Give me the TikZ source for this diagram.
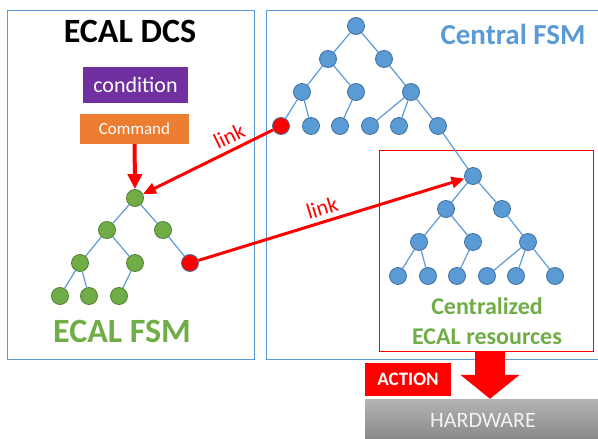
\documentclass[tikz,border=0pt]{standalone}
\usepackage{fontspec}
\setmainfont{Carlito}
\usetikzlibrary{arrows.meta}
\definecolor{fsmblue}{HTML}{5B9BD5}
\definecolor{fsmblueline}{HTML}{41719C}
\definecolor{fsmgreen}{HTML}{70AD47}
\definecolor{fsmgreenline}{HTML}{507E32}
\definecolor{condpurple}{HTML}{7030A0}
\definecolor{cmdorange}{HTML}{ED7D31}
\definecolor{hwtop}{HTML}{B4B4B4}
\definecolor{hwbottom}{HTML}{878787}
\definecolor{hwtext}{HTML}{F2F2F2}

\begin{document}
\begin{tikzpicture}[x=1pt, y=-1pt,
  bnode/.style={circle, draw=fsmblueline, fill=fsmblue, line width=0.8pt, minimum size=17pt, inner sep=0pt},
  gnode/.style={bnode, draw=fsmgreenline, fill=fsmgreen},
  rnode/.style={bnode, fill=red},
  tedge/.style={draw=fsmblue, line width=1.2pt},
  panel/.style={draw=fsmblue, line width=1pt},
  linkarrow/.style={draw=red, line width=3pt, -{Triangle[length=13pt,width=11pt]}},
  linklabel/.style={text=red, font=\fontsize{22}{26}\selectfont}]
%
% ECAL DCS and central FSM, linked trees
\clip (0,0) rectangle (598,439);

%% panels
\draw[panel] (7,10) rectangle (254,359);
\draw[panel] (266,10) rectangle (606,359);
\node[draw=red, line width=0.8pt, minimum width=214pt, minimum height=201pt] (res) at (486,250.5) {};

%% titles
\node (dcs) at (130,31) {\fontsize{34}{40}\selectfont\bfseries ECAL DCS};
\node[text=fsmgreen] (efsm) at (122,331) {\fontsize{34}{40}\selectfont\bfseries ECAL FSM};
\node[text=fsmblue] (cfsm) at (513,34) {\fontsize{29}{34}\selectfont\bfseries Central FSM};
\node[text=fsmgreen, align=center, font=\fontsize{24}{30}\selectfont\bfseries] (reslabel) at (487,321) {Centralized\\ECAL resources};

%% condition and command
\node[fill=condpurple, text=white, minimum width=105pt, minimum height=36pt, font=\fontsize{22}{26}\selectfont] (cond) at (135.5,85) {condition};
\node[fill=cmdorange, text=white, minimum width=109pt, minimum height=30pt, font=\fontsize{17}{20}\selectfont] (cmd) at (134.5,129) {Command};

%% ECAL FSM tree
\node[gnode] (g0) at (135,198) {};
\node[gnode] (g1) at (107,230) {};
\node[gnode] (g2) at (163,230) {};
\node[gnode] (g3) at (80,263) {};
\node[gnode] (g4) at (135,263) {};
\node[rnode] (gr) at (190,263) {};
\node[gnode] (g5) at (60,296) {};
\node[gnode] (g6) at (89,296) {};
\node[gnode] (g7) at (119,296) {};
\draw[tedge] (g0) -- (g1);
\draw[tedge] (g0) -- (g2);
\draw[tedge] (g1) -- (g3);
\draw[tedge] (g1) -- (g4);
\draw[tedge] (g2) -- (gr);
\draw[tedge] (g3) -- (g5);
\draw[tedge] (g3) -- (g6);
\draw[tedge] (g4) -- (g7);

%% central FSM tree
\node[bnode] (c0) at (356,26) {};
\node[bnode] (c1) at (328,59) {};
\node[bnode] (c2) at (384,59) {};
\node[bnode] (c3) at (302,92) {};
\node[bnode] (c4) at (356,92) {};
\node[bnode] (c5) at (411,92) {};
\node[rnode] (cr) at (281,126) {};
\node[bnode] (c6) at (311,126) {};
\node[bnode] (c7) at (340,126) {};
\node[bnode] (c8) at (370,126) {};
\node[bnode] (c9) at (399,126) {};
\node[bnode] (c10) at (438,126) {};
\draw[tedge] (c0) -- (c1);
\draw[tedge] (c0) -- (c2);
\draw[tedge] (c1) -- (c3);
\draw[tedge] (c1) -- (c4);
\draw[tedge] (c2) -- (c5);
\draw[tedge] (c3) -- (cr);
\draw[tedge] (c3) -- (c6);
\draw[tedge] (c4) -- (c7);
\draw[tedge] (c5) -- (c8);
\draw[tedge] (c5) -- (c9);
\draw[tedge] (c5) -- (c10);

%% ECAL resources subtree
\node[bnode] (s0) at (473,176) {};
\node[bnode] (s1) at (446,209) {};
\node[bnode] (s2) at (502,209) {};
\node[bnode] (s3) at (419,242) {};
\node[bnode] (s4) at (473,242) {};
\node[bnode] (s5) at (528,242) {};
\node[bnode] (s6) at (398,276) {};
\node[bnode] (s7) at (428,276) {};
\node[bnode] (s8) at (457,276) {};
\node[bnode] (s9) at (487,276) {};
\node[bnode] (s10) at (516,276) {};
\node[bnode] (s11) at (555,276) {};
\draw[tedge] (c10) -- (s0);
\draw[tedge] (s0) -- (s1);
\draw[tedge] (s0) -- (s2);
\draw[tedge] (s1) -- (s3);
\draw[tedge] (s1) -- (s4);
\draw[tedge] (s2) -- (s5);
\draw[tedge] (s3) -- (s6);
\draw[tedge] (s3) -- (s7);
\draw[tedge] (s4) -- (s8);
\draw[tedge] (s5) -- (s9);
\draw[tedge] (s5) -- (s10);
\draw[tedge] (s5) -- (s11);

%% links
\draw[draw=red, line width=4pt, -{Triangle[length=15pt,width=14pt]}] (cmd) -- (g0);
\draw[linkarrow] (cr) -- (g0);
\node[linklabel, rotate=26] (link1) at (229,136) {link};
\draw[linkarrow] (gr) -- (s0);
\node[linklabel, rotate=17] (link2) at (322,208) {link};

%% action and hardware
\node[fill=red, text=white, minimum width=86pt, minimum height=33pt, font=\fontsize{19}{23}\selectfont\bfseries] (act) at (408,379.5) {ACTION};
\node[top color=hwtop, bottom color=hwbottom, text=hwtext, minimum width=236pt, minimum height=42pt, font=\fontsize{22}{26}\selectfont] (hw) at (483,420) {HARDWARE};
\draw[draw=red, line width=30pt, -{Triangle[length=24pt,width=58pt]}] ([xshift=4pt]res.south) -- ([xshift=4pt]res.south |- hw.north);
\end{tikzpicture}
\end{document}
